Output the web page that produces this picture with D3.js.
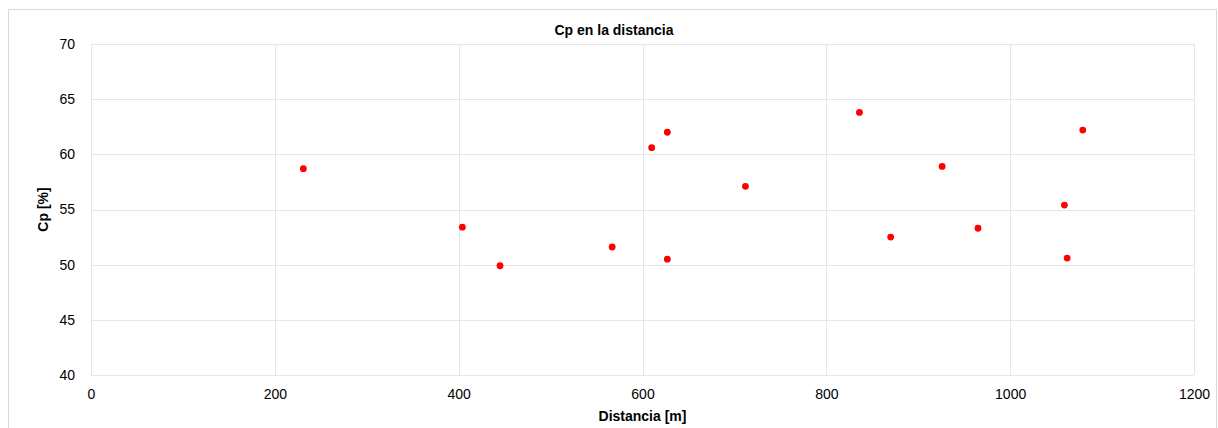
<!DOCTYPE html>
<html>
<head>
<meta charset="utf-8">
<script src="https://cdn.jsdelivr.net/npm/d3@7"></script>
<style>
  html, body { margin: 0; padding: 0; background: #fff; }
  svg { display: block; font-family: "Liberation Sans", Arial, sans-serif; }
</style>
</head>
<body>
<div id="chart"></div>
<script>
// Data
const distancia = [231, 404, 445, 567, 610, 627, 627, 712, 836, 870, 926, 965, 1059, 1062, 1079];
const cp        = [58.7, 53.4, 49.9, 51.6, 60.6, 62.0, 50.5, 57.1, 63.8, 52.5, 58.9, 53.3, 55.4, 50.6, 62.2];
const xTicks = [0, 200, 400, 600, 800, 1000, 1200];
const yTicks = [40, 45, 50, 55, 60, 65, 70];

const W = 1218, H = 428;
const M = { top: 44, right: 24, bottom: 53, left: 91 };
const width = W - M.left - M.right;
const height = H - M.top - M.bottom;

const svg = d3.select('#chart').append('svg')
  .attr('width', W).attr('height', H);

// outer chart frame
svg.append('rect')
  .attr('x', 8.5).attr('y', 9.5)
  .attr('width', 1208).attr('height', 430)
  .attr('fill', '#fff').attr('stroke', '#d9d9d9');

const g = svg.append('g').attr('transform', `translate(${M.left},${M.top})`);

const x = d3.scaleLinear().domain([0, 1200]).range([0, width]);
const y = d3.scaleLinear().domain([40, 70]).range([height, 0]);

// ── grid ──
g.append('g')
  .selectAll('line').data(xTicks).enter().append('line')
  .attr('x1', d => Math.round(x(d)) + 0.5).attr('x2', d => Math.round(x(d)) + 0.5)
  .attr('y1', 0).attr('y2', height)
  .attr('stroke', '#e6e6e6');

g.append('g')
  .selectAll('line').data(yTicks).enter().append('line')
  .attr('y1', d => Math.round(y(d)) + 0.5).attr('y2', d => Math.round(y(d)) + 0.5)
  .attr('x1', 0).attr('x2', width)
  .attr('stroke', '#e6e6e6');

// ── axes (labels only, Excel style) ──
const xAxis = g.append('g')
  .attr('transform', `translate(0,${height})`)
  .call(d3.axisBottom(x).tickValues(xTicks).tickSize(0).tickPadding(14).tickFormat(d3.format('d')));
xAxis.select('.domain').remove();
xAxis.selectAll('text').attr('font-size', '14px').attr('fill', '#000')
  .attr('font-family', '"Liberation Sans", Arial, sans-serif');

const yAxis = g.append('g')
  .call(d3.axisLeft(y).tickValues(yTicks).tickSize(0).tickPadding(16).tickFormat(d3.format('d')));
yAxis.select('.domain').remove();
yAxis.selectAll('text').attr('font-size', '14px').attr('fill', '#000')
  .attr('font-family', '"Liberation Sans", Arial, sans-serif');

// ── title and axis titles ──
svg.append('text')
  .attr('x', 614).attr('y', 35)
  .attr('text-anchor', 'middle')
  .attr('font-size', '14px').attr('font-weight', '700')
  .text('Cp en la distancia');

svg.append('text')
  .attr('x', M.left + width / 2).attr('y', 421)
  .attr('text-anchor', 'middle')
  .attr('font-size', '14px').attr('font-weight', '700')
  .text('Distancia [m]');

svg.append('text')
  .attr('transform', `translate(48,${M.top + height / 2}) rotate(-90)`)
  .attr('text-anchor', 'middle')
  .attr('font-size', '14px').attr('font-weight', '700')
  .text('Cp [%]');

// ── points ──
g.selectAll('.pt').data(distancia).enter().append('circle')
  .attr('class', 'pt')
  .attr('cx', (d, i) => x(d))
  .attr('cy', (d, i) => y(cp[i]))
  .attr('r', 3.4)
  .attr('fill', '#ff0000');
</script>
</body>
</html>
